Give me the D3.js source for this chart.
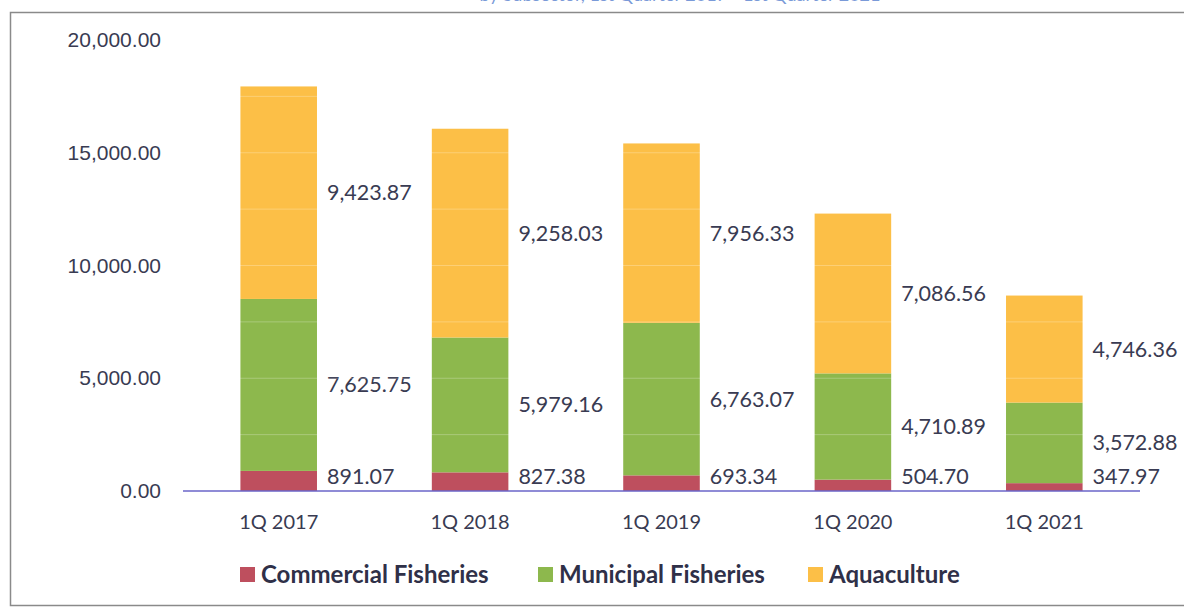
<!DOCTYPE html>
<html>
<head>
<meta charset="utf-8">
<script src="https://cdn.jsdelivr.net/npm/d3@7"></script>
<style>
  html, body { margin: 0; padding: 0; background: #fff; }
  svg { display: block; font-family: Lato, "Open Sans", sans-serif; }
</style>
</head>
<body>
<svg id="canvas" width="1184" height="610"></svg>
<script>
// data
var quarters = ['1Q 2017', '1Q 2018', '1Q 2019', '1Q 2020', '1Q 2021'];
var seriesNames = ['Commercial Fisheries', 'Municipal Fisheries', 'Aquaculture'];
var commercial = [891.07, 827.38, 693.34, 504.70, 347.97];
var municipal = [7625.75, 5979.16, 6763.07, 4710.89, 3572.88];
var aquaculture = [9423.87, 9258.03, 7956.33, 7086.56, 4746.36];
var yTicks = [0, 5000, 10000, 15000, 20000];

var colors = ['#be4f5e', '#8db84d', '#fcbf47'];
var textColor = '#393b52';

var svg = d3.select('#canvas'),
    W = 1184, H = 610,
    margin = {left: 183, right: 44, top: 40, bottom: 119};

// frame of the scanned figure
svg.append('rect')
    .attr('x', 10.5).attr('y', 12.5)
    .attr('width', W + 20).attr('height', 593)
    .attr('fill', 'none')
    .attr('stroke', '#8a8a8a')
    .attr('stroke-width', 1.5);

// title, mostly cropped off at the top of the scan
svg.append('text')
    .attr('x', 680).attr('y', 1)
    .attr('text-anchor', 'middle')
    .attr('fill', '#7a9ad8')
    .style('font-size', '18px')
    .text('by Subsector, 1st Quarter 2017 - 1st Quarter 2021');

var rows = quarters.map(function(q, i) {
    return {quarter: q, c: commercial[i], m: municipal[i], a: aquaculture[i]};
});
var keys = ['c', 'm', 'a'];
var stack = d3.stack().keys(keys)(rows);

var x = d3.scaleBand()
    .domain(quarters)
    .range([margin.left, W - margin.right])
    .paddingInner(0.6)
    .paddingOuter(0.3);

var y = d3.scaleLinear()
    .domain([0, 20000])
    .range([H - margin.bottom, margin.top]);

var fmt = d3.format(',.2f');

// y axis labels
var yAxis = svg.append('g')
    .attr('transform', 'translate(' + margin.left + ',0)')
    .call(d3.axisLeft(y).tickValues(yTicks).tickFormat(fmt).tickSize(0).tickPadding(22));
yAxis.select('.domain').remove();
yAxis.selectAll('text')
    .attr('fill', textColor)
    .style('font-size', '21px');

// bars
var layers = svg.append('g').selectAll('g')
    .data(stack)
    .join('g')
    .attr('fill', function(d, i) { return colors[i]; });

layers.selectAll('rect')
    .data(function(d) { return d; })
    .join('rect')
    .attr('x', function(d) { return x(d.data.quarter); })
    .attr('width', x.bandwidth())
    .attr('y', function(d) { return y(d[1]); })
    .attr('height', function(d) { return y(d[0]) - y(d[1]); });

// faint scan lines across the bars
svg.append('g').selectAll('line')
    .data(d3.range(2500, 20000, 2500))
    .join('line')
    .attr('x1', margin.left).attr('x2', W - margin.right)
    .attr('y1', function(d) { return y(d); })
    .attr('y2', function(d) { return y(d); })
    .attr('stroke', '#ffffff')
    .attr('stroke-opacity', 0.25)
    .attr('stroke-width', 1);

// x axis
svg.append('line')
    .attr('x1', margin.left).attr('x2', W - margin.right)
    .attr('y1', y(0)).attr('y2', y(0))
    .attr('stroke', '#6a64c8')
    .attr('stroke-width', 1.5);

svg.append('g').selectAll('text')
    .data(quarters)
    .join('text')
    .attr('x', function(d) { return x(d) + x.bandwidth() / 2; })
    .attr('y', y(0) + 38)
    .attr('text-anchor', 'middle')
    .attr('fill', textColor)
    .style('font-size', '20px')
    .text(function(d) { return d; });

// data labels right of each segment, kept clear of the axis line
layers.selectAll('text')
    .data(function(d) { return d; })
    .join('text')
    .attr('x', function(d) { return x(d.data.quarter) + x.bandwidth() + 10; })
    .attr('y', function(d) { return Math.min(y((d[0] + d[1]) / 2), y(0) - 15); })
    .attr('dy', '0.35em')
    .attr('fill', textColor)
    .style('font-size', '21.5px')
    .text(function(d) { return fmt(d[1] - d[0]); });

// legend
var legendX = [240, 538, 808];
var legend = svg.append('g').selectAll('g')
    .data(seriesNames)
    .join('g')
    .attr('transform', function(d, i) { return 'translate(' + legendX[i] + ',575)'; });

legend.append('rect')
    .attr('x', 0).attr('y', -8)
    .attr('width', 15).attr('height', 15)
    .attr('fill', function(d, i) { return colors[i]; });

legend.append('text')
    .attr('x', 21).attr('y', 0)
    .attr('dy', '0.35em')
    .attr('fill', '#2f3048')
    .style('font-size', '24px')
    .style('font-weight', 'bold')
    .text(function(d) { return d; });
</script>
</body>
</html>
